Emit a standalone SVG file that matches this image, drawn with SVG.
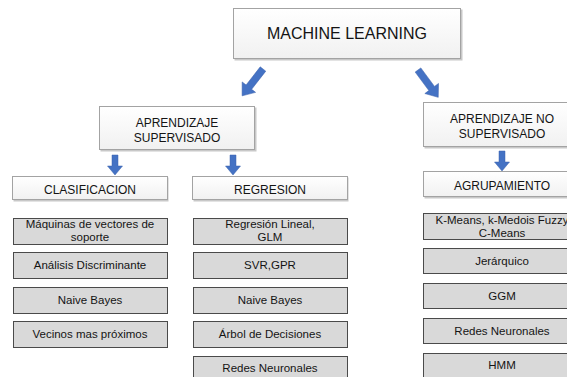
<svg xmlns="http://www.w3.org/2000/svg" width="567" height="377" viewBox="0 0 567 377">
<style>
  text { font-family: "Liberation Sans", Arial, sans-serif; fill: #141414; text-anchor: middle; }
  .t1 { font-size: 16px; }
  .t2 { font-size: 12px; }
  .t3 { font-size: 11.5px; }
  .hd { fill: url(#hg); stroke: #a3a3a3; stroke-width: 1; }
  .sh { fill: #c8c8c8; }
  .it { fill: #d9d9d9; stroke: #4a4a4a; stroke-width: 1; }
  .ar { fill: #4472c4; stroke: #3a62ad; stroke-width: 0.5; }
</style>
<defs>
  <linearGradient id="hg" x1="0" y1="0" x2="0" y2="1">
    <stop offset="0" stop-color="#ffffff"/>
    <stop offset="1" stop-color="#f1f1f1"/>
  </linearGradient>
  <polygon id="diag" points="0,-3.5 23,-3.5 23,-8.5 34,0 23,8.5 23,3.5 0,3.5"/>
  <polygon id="down" points="-3,0 3,0 3,11 7.5,11 0,20 -7.5,11 -3,11"/>
</defs>
<rect width="567" height="377" fill="#ffffff"/>

<g id="connectors">
  <use href="#diag" class="ar" transform="translate(263,69) rotate(127.9)"/>
  <use href="#diag" class="ar" transform="translate(418,70) rotate(53.5)"/>
  <use href="#down" class="ar" transform="translate(115,155)"/>
  <use href="#down" class="ar" transform="translate(233,155)"/>
  <use href="#down" class="ar" transform="translate(502,151)"/>
</g>

<g id="machine-learning">
  <rect class="sh" x="234.5" y="9.5" width="228" height="51"/>
  <rect class="hd" x="233.5" y="8.5" width="227" height="50"/>
  <text class="t1" x="347" y="39">MACHINE LEARNING</text>
</g>

<g id="supervisado">
  <rect class="sh" x="100.5" y="107.5" width="156" height="44"/>
  <rect class="hd" x="99.5" y="106.5" width="155" height="43"/>
  <text class="t2" x="177" y="127">APRENDIZAJE<tspan x="177" dy="15">SUPERVISADO</tspan></text>
</g>

<g id="no-supervisado">
  <rect class="sh" x="424.5" y="103.5" width="158" height="45"/>
  <rect class="hd" x="423.5" y="102.5" width="158" height="44"/>
  <text class="t2" x="502" y="123">APRENDIZAJE NO<tspan x="502" dy="15">SUPERVISADO</tspan></text>
</g>

<g id="clasificacion">
  <rect class="sh" x="13.5" y="177.5" width="155" height="24"/>
  <rect class="hd" x="12.5" y="176.5" width="155" height="23"/>
  <text class="t2" x="90" y="193.5">CLASIFICACION</text>
</g>

<g id="regresion">
  <rect class="sh" x="193.5" y="177.5" width="155" height="24"/>
  <rect class="hd" x="192.5" y="176.5" width="155" height="23"/>
  <text class="t2" x="270" y="193.5">REGRESION</text>
</g>

<g id="agrupamiento">
  <rect class="sh" x="424.5" y="172.5" width="158" height="26"/>
  <rect class="hd" x="423.5" y="171.5" width="158" height="25"/>
  <text class="t2" x="502" y="189.5">AGRUPAMIENTO</text>
</g>

<g id="c1">
  <rect class="it" x="13.5" y="218.5" width="154" height="26"/>
  <text class="t3" x="90" y="228">Máquinas de vectores de<tspan x="90" dy="13">soporte</tspan></text>
</g>
<g id="c2">
  <rect class="it" x="13.5" y="252.5" width="154" height="26"/>
  <text class="t3" x="90" y="269">Análisis Discriminante</text>
</g>
<g id="c3">
  <rect class="it" x="13.5" y="287.5" width="154" height="26"/>
  <text class="t3" x="90" y="304">Naive Bayes</text>
</g>
<g id="c4">
  <rect class="it" x="13.5" y="321.5" width="154" height="26"/>
  <text class="t3" x="90" y="338">Vecinos mas próximos</text>
</g>

<g id="r1">
  <rect class="it" x="193.5" y="218.5" width="154" height="26"/>
  <text class="t3" x="270" y="228">Regresión Lineal,<tspan x="270" dy="13">GLM</tspan></text>
</g>
<g id="r2">
  <rect class="it" x="193.5" y="252.5" width="154" height="26"/>
  <text class="t3" x="270" y="269">SVR,GPR</text>
</g>
<g id="r3">
  <rect class="it" x="193.5" y="287.5" width="154" height="26"/>
  <text class="t3" x="270" y="304">Naive Bayes</text>
</g>
<g id="r4">
  <rect class="it" x="193.5" y="321.5" width="154" height="26"/>
  <text class="t3" x="270" y="338">Árbol de Decisiones</text>
</g>
<g id="r5">
  <rect class="it" x="193.5" y="356.5" width="154" height="30"/>
  <text class="t3" x="270" y="372">Redes Neuronales</text>
</g>

<g id="a1">
  <rect class="it" x="423.5" y="213.5" width="158" height="26"/>
  <text class="t3" x="502" y="224">K-Means, k-Medois Fuzzy<tspan x="502" dy="13">C-Means</tspan></text>
</g>
<g id="a2">
  <rect class="it" x="423.5" y="248.5" width="158" height="25"/>
  <text class="t3" x="502" y="265">Jerárquico</text>
</g>
<g id="a3">
  <rect class="it" x="423.5" y="283.5" width="158" height="25"/>
  <text class="t3" x="502" y="300">GGM</text>
</g>
<g id="a4">
  <rect class="it" x="423.5" y="318.5" width="158" height="25"/>
  <text class="t3" x="502" y="335">Redes Neuronales</text>
</g>
<g id="a5">
  <rect class="it" x="423.5" y="353.5" width="158" height="30"/>
  <text class="t3" x="502" y="369">HMM</text>
</g>
</svg>
